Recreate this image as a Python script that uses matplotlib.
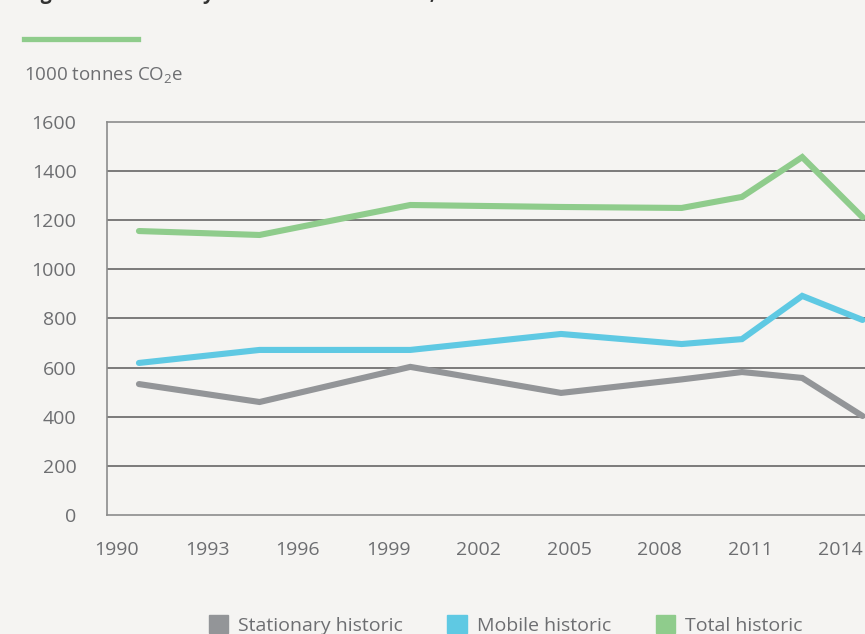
# emissions chart: stationary, mobile and total historic (1000 tonnes CO2e)

import matplotlib.pyplot as plt
import matplotlib.patches as mpatches
from matplotlib.transforms import ScaledTranslation

years = [1991, 1995, 2000, 2005, 2009, 2011, 2013, 2015]
stationary = [533, 460, 603, 497, 552, 582, 558, 403]
mobile = [619, 672, 672, 737, 696, 716, 892, 794]
total = [1156, 1140, 1262, 1254, 1250, 1295, 1457, 1212]

tick_years = [1990, 1993, 1996, 1999, 2002, 2005, 2008, 2011, 2014]
y_ticks = [0, 200, 400, 600, 800, 1000, 1200, 1400, 1600]
series_names = ['Stationary historic', 'Mobile historic', 'Total historic']

bg = '#f5f4f2'
text_col = '#6d6e71'
colors = ['#939598', '#5fc9e3', '#8fcc8c']

plt.rcParams['font.family'] = ['Open Sans', 'DejaVu Sans']
plt.rcParams['mathtext.default'] = 'regular'

fig = plt.figure(figsize=(8.65, 6.34), dpi=100, facecolor=bg)
ax = fig.add_axes([0.1237, 0.1877, 0.9083, 0.6199], facecolor=bg)

for vals, c in zip([stationary, mobile, total], colors):
    ax.plot(years, vals, color=c, linewidth=4.4, solid_capstyle='round',
            solid_joinstyle='miter', zorder=3)

ax.set_xlim(1989.94, 2016)
ax.set_ylim(0, 1600)
ax.set_xticks(tick_years)
ax.set_xticklabels([str(y) for y in tick_years])
ax.set_yticks(y_ticks)

# horizontal grid lines
for v in y_ticks[1:-1]:
    ax.axhline(v, color='#5a5a5a', linewidth=1.1, zorder=1)

for side in ['left', 'top', 'bottom']:
    ax.spines[side].set_color('#8c8c8c')
    ax.spines[side].set_linewidth(1.2)
ax.spines['right'].set_visible(False)

ax.tick_params(axis='both', length=0, labelsize=14, colors=text_col)
ax.tick_params(axis='y', pad=22)
ax.tick_params(axis='x', pad=19)

# year labels sit a little right of the year positions in the original
shift = ScaledTranslation(8 / 100, 0, fig.dpi_scale_trans)
for lbl in ax.get_xticklabels():
    lbl.set_transform(lbl.get_transform() + shift)

# header: cut-off title, green rule and unit label
fig.text(24 / 865, 1 + 1 / 634, 'Figure 4: Stationary and mobile emissions, total',
         fontsize=14, fontweight='bold', color='#333333', va='baseline')
fig.add_artist(plt.Line2D([24 / 865, 138 / 865], [1 - 39 / 634, 1 - 39 / 634],
                          color='#8fcc8c', linewidth=3.8))
fig.text(24 / 865, 1 - 75 / 634, '1000 tonnes CO$_2$e', fontsize=13.5,
         color=text_col, va='center')

handles = [mpatches.Patch(color=c, label=n) for c, n in zip(colors, series_names)]
fig.legend(handles=handles, loc='center', bbox_to_anchor=(0.5844, 1 - 625 / 634),
           ncol=3, frameon=False, fontsize=14, labelcolor=text_col,
           handlelength=1.0, handleheight=1.0, handletextpad=0.5, columnspacing=2.3)

fig.savefig('out.png', dpi=100, facecolor=bg)
